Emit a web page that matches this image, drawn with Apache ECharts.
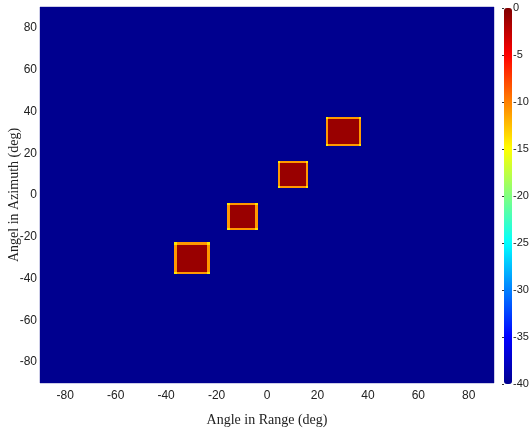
<!DOCTYPE html>
<html>
<head>
<meta charset="utf-8">
<script src="https://cdn.jsdelivr.net/npm/echarts@6/dist/echarts.min.js"></script>
<style>
  html, body { margin: 0; padding: 0; background: #fff; }
  #chart { width: 531px; height: 434px; }
</style>
</head>
<body>
<div id="chart"></div>
<script>
// angle grid, 1 deg steps
const angles = [];
for (let a = -90; a <= 90; a++) angles.push(a);

const rangeTicks = [-80, -60, -40, -20, 0, 20, 40, 60, 80];
const azimuthTicks = [-80, -60, -40, -20, 0, 20, 40, 60, 80];

// target blocks (deg): range from/to, azimuth from/to
const blockRangeFrom = [-36, -15, 5, 24];
const blockRangeTo = [-23, -4, 16, 37];
const blockAzFrom = [-37, -16, 4, 24];
const blockAzTo = [-23, -4, 16, 37];

const floorDb = -40;   // background level
const peakDb = -1;     // inside the blocks
const rimDb = -11;     // edge of each block
const cornerDb = -14;  // block corners

const jet = ['#00008F', '#0000FF', '#0080FF', '#00FFFF', '#80FF80',
  '#FFFF00', '#FF8000', '#FF0000', '#800000'];

const tickFont = '"Liberation Sans Narrow", "Arial Narrow", "Liberation Sans", Arial, sans-serif';
const titleFont = '"Liberation Serif", "Times New Roman", serif';

function levelAt (r, a) {
  for (let k = 0; k < blockRangeFrom.length; k++) {
    const r0 = blockRangeFrom[k], r1 = blockRangeTo[k];
    const a0 = blockAzFrom[k], a1 = blockAzTo[k];
    if (r < r0 || r > r1 || a < a0 || a > a1) continue;
    const edgeR = r === r0 || r === r1;
    const edgeA = a === a0 || a === a1;
    if (edgeR && edgeA) return cornerDb;
    if (edgeR || edgeA) return rimDb;
    return peakDb;
  }
  return floorDb;
}

const cells = [];
angles.forEach((r) => {
  angles.forEach((a) => {
    cells.push([r, a, levelAt(r, a)]);
  });
});

function renderCell (params, api) {
  const r = api.value(0);
  const a = api.value(1);
  const p0 = api.coord([r - 0.5, a + 0.5]);
  const p1 = api.coord([r + 0.5, a - 0.5]);
  const x0 = Math.floor(p0[0]);
  const y0 = Math.floor(p0[1]);
  const x1 = Math.ceil(p1[0]);
  const y1 = Math.ceil(p1[1]);
  return {
    type: 'rect',
    shape: { x: x0, y: y0, width: x1 - x0, height: y1 - y0 },
    style: { fill: api.visual('color') },
    silent: true
  };
}

const myChart = echarts.init(document.getElementById('chart'));
myChart.setOption({
  animation: false,
  grid: [
    {
      left: 40, top: 7, width: 454, height: 376,
      outerBoundsMode: 'none',
      containLabel: false,
      show: true, borderColor: '#9a9ad0', borderWidth: 1
    },
    { left: 504, top: 8, width: 8, height: 376, outerBoundsMode: 'none', containLabel: false }
  ],
  xAxis: [
    {
      type: 'value',
      gridIndex: 0,
      min: -90, max: 90,
      name: 'Angle in Range (deg)',
      nameLocation: 'middle',
      nameGap: 30,
      nameMoveOverlap: false,
      nameTextStyle: { fontFamily: titleFont, fontSize: 14, color: '#222' },
      axisLine: { show: false },
      axisTick: { show: false },
      splitLine: { show: false },
      axisLabel: {
        customValues: rangeTicks,
        fontFamily: tickFont, fontSize: 12, color: '#222', margin: 7
      }
    },
    { type: 'value', gridIndex: 1, show: false, min: 0, max: 1 }
  ],
  yAxis: [
    {
      type: 'value',
      gridIndex: 0,
      min: -90, max: 90,
      name: 'Angel in Azimuth (deg)',
      nameLocation: 'middle',
      nameGap: 19,
      nameRotate: 90,
      nameMoveOverlap: false,
      nameTextStyle: { fontFamily: titleFont, fontSize: 14, color: '#222' },
      axisLine: { show: false },
      axisTick: { show: false },
      splitLine: { show: false },
      axisLabel: {
        customValues: azimuthTicks,
        fontFamily: tickFont, fontSize: 12, color: '#222', margin: 3
      }
    },
    {
      type: 'value',
      gridIndex: 1,
      position: 'right',
      min: -40, max: 0, interval: 5,
      axisLine: { show: false },
      axisTick: { show: true, inside: true, length: 2, lineStyle: { color: '#333' } },
      splitLine: { show: false },
      axisLabel: { fontFamily: tickFont, fontSize: 11, color: '#222', margin: 1 }
    }
  ],
  visualMap: {
    type: 'continuous',
    seriesIndex: 0,
    dimension: 2,
    min: -40, max: 0,
    calculable: false,
    hoverLink: false,
    left: 504, top: 8,
    itemWidth: 8, itemHeight: 376,
    padding: 0,
    text: null,
    inRange: { color: jet }
  },
  series: [
    {
      type: 'custom',
      xAxisIndex: 0,
      yAxisIndex: 0,
      data: cells,
      renderItem: renderCell,
      clip: true,
      progressive: 0,
      silent: true
    }
  ]
});
</script>
</body>
</html>
